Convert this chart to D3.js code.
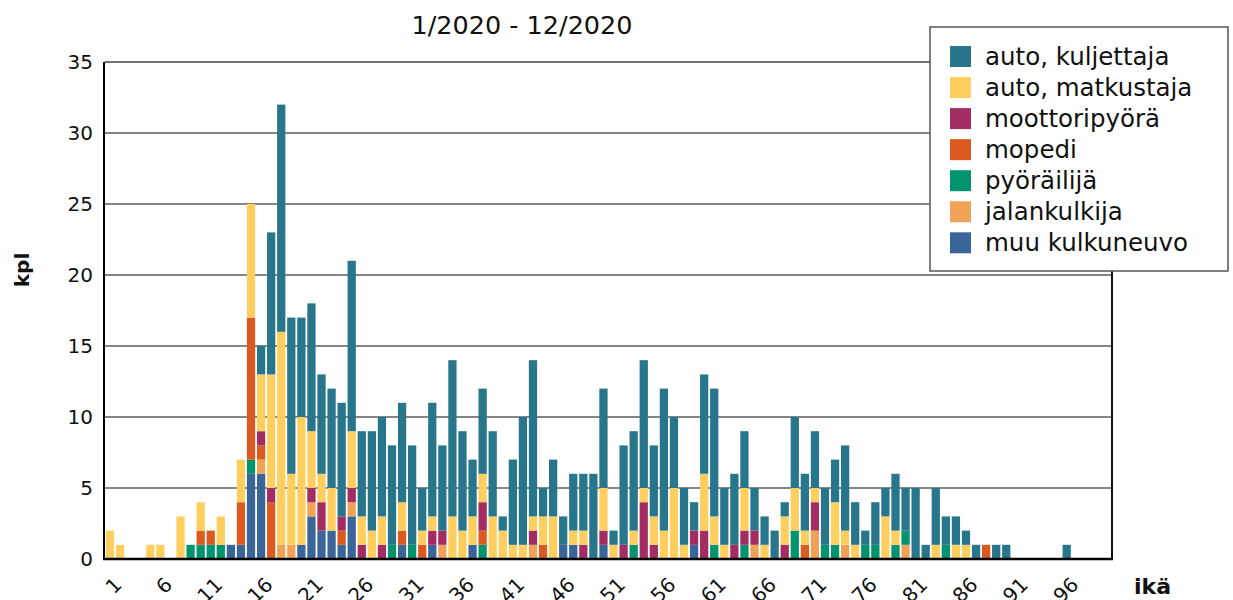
<!DOCTYPE html>
<html>
<head>
<meta charset="utf-8">
<script src="https://cdn.jsdelivr.net/npm/d3@7"></script>
<style>
  body { margin: 0; background: #fff; }
  text { font-family: "DejaVu Sans", Verdana, sans-serif; fill: #111; }
</style>
</head>
<body>
<div id="chart"></div>
<script>
// ages 1..100
var ages = d3.range(1, 101);
var ageTicks = [1, 6, 11, 16, 21, 26, 31, 36, 41, 46, 51, 56, 61, 66, 71, 76, 81, 86, 91, 96];
var yTicks = [0, 5, 10, 15, 20, 25, 30, 35];

// series values by age (index 0 = age 1)
var kuljettaja = [
  0, 0, 0, 0, 0, 0, 0, 0, 0, 0,
  0, 0, 0, 0, 0, 2, 10, 16, 11, 7,
  9, 7, 7, 8, 12, 6, 7, 7, 7, 7,
  7, 3, 8, 6, 11, 7, 4, 6, 6, 1,
  6, 9, 11, 2, 4, 2, 4, 4, 6, 7,
  1, 7, 7, 9, 5, 10, 5, 4, 2, 7,
  9, 4, 5, 4, 3, 2, 2, 1, 5, 4,
  4, 4, 3, 6, 3, 1, 3, 2, 4, 3,
  5, 1, 4, 2, 2, 1, 1, 0, 1, 1,
  0, 0, 0, 0, 0, 1, 0, 0, 0, 0
];
var matkustaja = [
  2, 1, 0, 0, 1, 1, 0, 3, 0, 2,
  0, 2, 0, 3, 8, 4, 8, 15, 5, 9,
  4, 2, 3, 0, 4, 2, 2, 2, 0, 2,
  0, 1, 1, 0, 3, 2, 2, 2, 3, 2,
  1, 1, 1, 2, 3, 0, 1, 1, 0, 3,
  1, 0, 1, 1, 2, 2, 5, 1, 0, 4,
  2, 1, 0, 3, 0, 1, 0, 2, 3, 1,
  1, 0, 3, 1, 1, 0, 0, 3, 1, 0,
  0, 0, 1, 0, 1, 1, 0, 0, 0, 0,
  0, 0, 0, 0, 0, 0, 0, 0, 0, 0
];
var moottoripyora = [
  0, 0, 0, 0, 0, 0, 0, 0, 0, 0,
  0, 0, 0, 0, 0, 1, 1, 0, 0, 0,
  1, 2, 0, 1, 1, 1, 0, 1, 0, 0,
  0, 0, 1, 1, 0, 0, 0, 2, 0, 0,
  0, 0, 1, 0, 0, 0, 0, 1, 0, 1,
  0, 1, 0, 4, 1, 0, 0, 0, 1, 2,
  0, 0, 1, 1, 1, 0, 0, 1, 0, 0,
  2, 0, 0, 0, 0, 0, 0, 0, 0, 0,
  0, 0, 0, 0, 0, 0, 0, 0, 0, 0,
  0, 0, 0, 0, 0, 0, 0, 0, 0, 0
];
var mopedi = [
  0, 0, 0, 0, 0, 0, 0, 0, 0, 1,
  1, 0, 0, 3, 10, 1, 4, 0, 0, 0,
  0, 0, 0, 1, 0, 0, 0, 0, 0, 1,
  0, 1, 0, 0, 0, 0, 0, 1, 0, 0,
  0, 0, 0, 1, 0, 0, 0, 0, 0, 0,
  0, 0, 0, 0, 0, 0, 0, 0, 0, 0,
  0, 0, 0, 0, 0, 0, 0, 0, 0, 1,
  0, 0, 0, 0, 0, 0, 0, 0, 0, 0,
  0, 0, 0, 0, 0, 0, 0, 1, 0, 0,
  0, 0, 0, 0, 0, 0, 0, 0, 0, 0
];
var pyorailija = [
  0, 0, 0, 0, 0, 0, 0, 0, 1, 1,
  1, 1, 0, 0, 1, 0, 0, 0, 0, 0,
  0, 0, 0, 0, 0, 0, 0, 0, 1, 0,
  1, 0, 0, 0, 0, 0, 0, 1, 0, 0,
  0, 0, 0, 0, 0, 0, 0, 0, 0, 0,
  0, 0, 1, 0, 0, 0, 0, 0, 0, 0,
  1, 0, 0, 1, 0, 0, 0, 0, 2, 0,
  0, 1, 1, 0, 0, 1, 1, 0, 1, 1,
  0, 0, 0, 1, 0, 0, 0, 0, 0, 0,
  0, 0, 0, 0, 0, 0, 0, 0, 0, 0
];
var jalankulkija = [
  0, 0, 0, 0, 0, 0, 0, 0, 0, 0,
  0, 0, 0, 0, 0, 1, 0, 1, 1, 0,
  1, 0, 0, 0, 1, 0, 0, 0, 0, 0,
  0, 0, 0, 1, 0, 0, 0, 0, 0, 0,
  0, 0, 1, 0, 0, 0, 0, 0, 0, 0,
  0, 0, 0, 0, 0, 0, 0, 0, 0, 0,
  0, 0, 0, 0, 1, 0, 0, 0, 0, 0,
  2, 0, 0, 1, 0, 0, 0, 0, 0, 1,
  0, 0, 0, 0, 0, 0, 0, 0, 0, 0,
  0, 0, 0, 0, 0, 0, 0, 0, 0, 0
];
var muu = [
  0, 0, 0, 0, 0, 0, 0, 0, 0, 0,
  0, 0, 1, 1, 6, 6, 0, 0, 0, 1,
  3, 2, 2, 1, 3, 0, 0, 0, 0, 1,
  0, 0, 1, 0, 0, 0, 1, 0, 0, 0,
  0, 0, 0, 0, 0, 1, 1, 0, 0, 1,
  0, 0, 0, 0, 0, 0, 0, 0, 1, 0,
  0, 0, 0, 0, 0, 0, 0, 0, 0, 0,
  0, 0, 0, 0, 0, 0, 0, 0, 0, 0,
  0, 0, 0, 0, 0, 0, 0, 0, 0, 0,
  0, 0, 0, 0, 0, 0, 0, 0, 0, 0
];

// legend order (top to bottom); stacking goes the other way
var seriesNames = ["auto, kuljettaja", "auto, matkustaja", "moottoripyörä", "mopedi", "pyöräilijä", "jalankulkija", "muu kulkuneuvo"];
var seriesValues = [kuljettaja, matkustaja, moottoripyora, mopedi, pyorailija, jalankulkija, muu];
var seriesColors = ["#27768b", "#fecf5f", "#a32c62", "#dc5a20", "#00946e", "#f0a356", "#3a6598"];

var svgWidth = 1233;
var svgHeight = 600;
var margin = { top: 62, right: 121, bottom: 41, left: 105 };
var width = svgWidth - margin.left - margin.right;
var height = svgHeight - margin.top - margin.bottom;

var svg = d3.select("#chart")
  .append("svg")
  .attr("width", svgWidth)
  .attr("height", svgHeight);

var chartGroup = svg.append("g")
  .attr("transform", `translate(${margin.left}, ${margin.top})`);

// build rows for d3.stack
var rows = ages.map(function(age, i) {
  var row = { age: age };
  seriesNames.forEach(function(name, j) {
    row[name] = seriesValues[j][i];
  });
  return row;
});

var stackKeys = seriesNames.slice().reverse();
var stacked = d3.stack().keys(stackKeys)(rows);

var xBandScale = d3.scaleBand()
  .domain(ages)
  .range([0, width])
  .paddingInner(0.18)
  .paddingOuter(0.09);

var yLinearScale = d3.scaleLinear()
  .domain([0, 35])
  .range([height, 0]);

var colorScale = d3.scaleOrdinal()
  .domain(seriesNames)
  .range(seriesColors);

// grid lines
chartGroup.append("g")
  .selectAll("line")
  .data(yTicks.filter(d => d > 0 && d < 35))
  .enter()
  .append("line")
  .attr("x1", 0)
  .attr("x2", width)
  .attr("y1", d => yLinearScale(d))
  .attr("y2", d => yLinearScale(d))
  .attr("stroke", "#858585")
  .attr("stroke-width", 2);

// top and right border
chartGroup.append("line")
  .attr("x1", 0).attr("x2", width)
  .attr("y1", 0).attr("y2", 0)
  .attr("stroke", "#444")
  .attr("stroke-width", 1.5);
chartGroup.append("line")
  .attr("x1", width).attr("x2", width)
  .attr("y1", 0).attr("y2", height)
  .attr("stroke", "#111")
  .attr("stroke-width", 2);

// stacked bars
chartGroup.append("g")
  .selectAll("g")
  .data(stacked)
  .enter()
  .append("g")
  .attr("fill", d => colorScale(d.key))
  .selectAll("rect")
  .data(d => d.filter(s => s[1] > s[0]))
  .enter()
  .append("rect")
  .attr("x", d => xBandScale(d.data.age))
  .attr("width", xBandScale.bandwidth())
  .attr("y", d => yLinearScale(d[1]))
  .attr("height", d => yLinearScale(d[0]) - yLinearScale(d[1]));

// y axis
var leftAxis = d3.axisLeft(yLinearScale)
  .tickValues(yTicks)
  .tickSize(0)
  .tickPadding(12);

var yAxis = chartGroup.append("g")
  .call(leftAxis);
yAxis.select(".domain").remove();
yAxis.selectAll("text")
  .style("font-size", "20px")
  .style("font-family", "DejaVu Sans, sans-serif")
  .attr("fill", "#111");

// x axis labels, rotated (the bottom of them runs off the page, as in the original)
var bottomAxis = d3.axisBottom(xBandScale)
  .tickValues(ageTicks)
  .tickSize(0);

var xAxis = chartGroup.append("g")
  .attr("transform", `translate(0, ${height})`)
  .call(bottomAxis);
xAxis.select(".domain").remove();
xAxis.selectAll("text")
  .style("font-size", "20px")
  .style("font-family", "DejaVu Sans, sans-serif")
  .attr("fill", "#111")
  .attr("text-anchor", "end")
  .attr("dy", null)
  .attr("y", 0)
  .attr("transform", "translate(13, 27) rotate(-45)");

// axis lines
chartGroup.append("line")
  .attr("x1", -1).attr("x2", -1)
  .attr("y1", 0).attr("y2", height + 1)
  .attr("stroke", "#000")
  .attr("stroke-width", 2);
chartGroup.append("line")
  .attr("x1", -2).attr("x2", width + 1)
  .attr("y1", height).attr("y2", height)
  .attr("stroke", "#000")
  .attr("stroke-width", 2.5);

// axis titles
svg.append("text")
  .attr("transform", "translate(29, 270) rotate(-90)")
  .attr("text-anchor", "middle")
  .style("font-size", "20px")
  .style("font-weight", "bold")
  .text("kpl");

svg.append("text")
  .attr("x", 1134)
  .attr("y", 594)
  .style("font-size", "22px")
  .style("font-weight", "bold")
  .text("ikä");

// title
svg.append("text")
  .attr("x", 522)
  .attr("y", 34)
  .attr("text-anchor", "middle")
  .style("font-size", "25.5px")
  .text("1/2020 - 12/2020");

// legend
var legend = svg.append("g")
  .attr("transform", "translate(930, 27)");

legend.append("rect")
  .attr("width", 298)
  .attr("height", 244)
  .attr("fill", "#fff")
  .attr("stroke", "#555")
  .attr("stroke-width", 1.5);

var legendRows = legend.selectAll("g.item")
  .data(seriesNames)
  .enter()
  .append("g")
  .attr("class", "item")
  .attr("transform", (d, i) => `translate(20, ${29.5 + i * 31.05})`);

legendRows.append("rect")
  .attr("x", 0)
  .attr("y", -10.5)
  .attr("width", 21)
  .attr("height", 21)
  .attr("fill", d => colorScale(d));

legendRows.append("text")
  .attr("x", 35)
  .attr("dy", "0.35em")
  .style("font-size", "24.5px")
  .text(d => d);
</script>
</body>
</html>
